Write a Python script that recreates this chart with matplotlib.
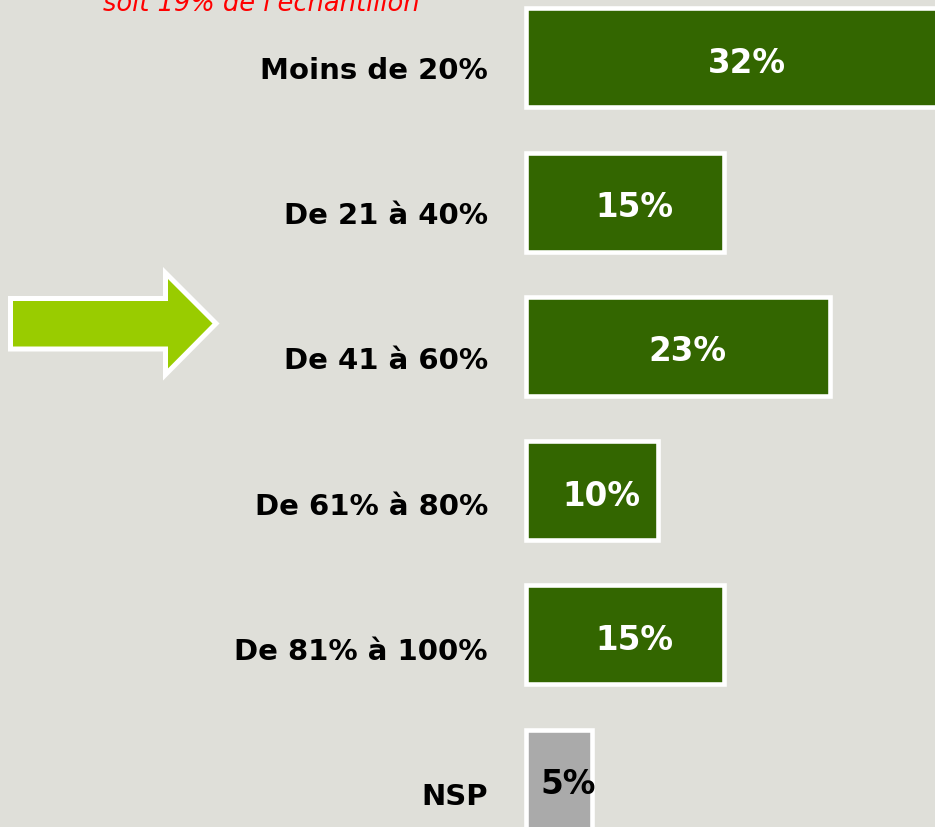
import matplotlib
matplotlib.use("Agg")
import matplotlib.pyplot as plt
from matplotlib.patches import Polygon

categories = ["Moins de 20%", "De 21 à 40%", "De 41 à 60%", "De 61% à 80%", "De 81% à 100%", "NSP"]
values = [32, 15, 23, 10, 15, 5]
value_labels = ["32%", "15%", "23%", "10%", "15%", "5%"]
note_text = "soit 19% de l'échantillon"

BG = "#DFDFD9"
GREEN = "#336600"
GREY = "#AAAAAA"
ARROW = "#99CC00"

W, H = 935, 828
fig = plt.figure(figsize=(W / 100, H / 100), dpi=100, facecolor=BG)
ax = fig.add_axes([0, 0, 1, 1])
ax.set_facecolor(BG)

pxp = 13.23          # pixels per percent
x0 = 525.5           # pixel of value 0
pitch = 144.3
c0 = 58.7
ax.set_xlim(-x0 / pxp, (W - x0) / pxp)
ax.set_ylim((H - c0) / pitch, -c0 / pitch)
ax.axis("off")

ypos = list(range(len(categories)))
colors = [GREEN] * (len(categories) - 1) + [GREY]
ax.barh(ypos, values, height=99 / pitch, color=colors, edgecolor="white",
        linewidth=3.3, joinstyle="miter")

label_pitch = 145.3 / pitch
for i, (cat, v, lab) in enumerate(zip(categories, values, value_labels)):
    ax.text(-37.5 / pxp, i * label_pitch + 20 / pitch, cat, ha="right", va="baseline",
            fontsize=21, fontweight="bold", color="black", family="DejaVu Sans")
    tc = "black" if i == len(categories) - 1 else "white"
    ax.text(v / 2 + 10 / pxp, i + 14 / pitch, lab, ha="center", va="baseline",
            fontsize=23.5, fontweight="bold", color=tc, family="DejaVu Sans")

fig.text(261 / W, 1 - 11 / H, note_text, ha="center", va="baseline",
         fontsize=18.5, style="italic", color="#FF0000", family="DejaVu Sans")

# green arrow pointing at "De 41 à 60%"
pts = [(10.5, 299.5), (165.5, 299.5), (165.5, 274), (216, 324.5),
       (165.5, 375.5), (165.5, 350), (10.5, 350)]
pts = [(x / W, 1 - y / H) for x, y in pts]
fig.patches.append(Polygon(pts, closed=True, facecolor=ARROW, edgecolor="white",
                           linewidth=3.6, joinstyle="miter", transform=fig.transFigure))

fig.savefig("out.png", dpi=100, facecolor=BG)
